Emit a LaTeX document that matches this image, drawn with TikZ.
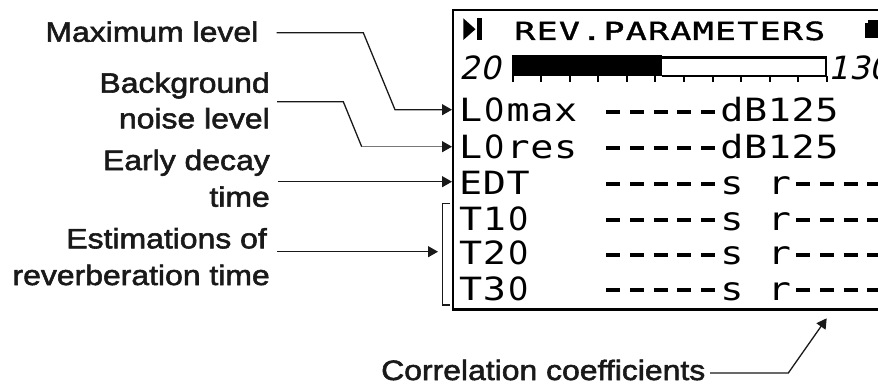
\documentclass[tikz,border=0pt]{standalone}
\usepackage{fontspec}
\usetikzlibrary{arrows.meta}
\newfontfamily\labfont[FakeStretch=1.14,FakeBold=2]{Liberation Sans}
\newfontfamily\lcdfont[FakeStretch=1.2]{DejaVu Sans Mono}
\newfontfamily\lcdzero{DejaVu Sans}
\newfontfamily\lcdhead[FakeStretch=1.4,FakeBold=1.5]{DejaVu Sans Mono}
\newfontfamily\lcdital[FakeSlant=0.22]{DejaVu Sans}
\definecolor{labtext}{RGB}{25,25,25}
\definecolor{greyline}{RGB}{120,120,120}
\def\lcdend{}
\newcommand\lcdrow[2]{\def\lcdp{#1}\lcdloop#2\lcdend}
\def\lcdloop#1{\ifx#1\lcdend\else\lcdcell{#1}\expandafter\lcdloop\fi}
\def\lcdcell#1{%
  \ifx#1*\hbox to\lcdp{\hss}%
  \else\ifx#1-\hbox to\lcdp{\hss\rule[8pt]{14pt}{4pt}\hss}%
  \else\ifx#10\hbox to\lcdp{\hss{\lcdzero 0}\hss}%
  \else\hbox to\lcdp{\hss#1\hss}\fi\fi\fi}
\tikzset{
  lab/.style={font=\labfont\fontsize{28}{36}\selectfont, inner sep=0pt, text=labtext},
  conn/.style={line width=1.3pt, draw=labtext},
  tipped/.style={-{Triangle[length=10pt,width=11pt,color=labtext]}},
  lcdtext/.style={font=\lcdfont\fontsize{32}{36}\selectfont, inner sep=0pt, anchor=base west},
  lcdheadtext/.style={font=\lcdhead\fontsize{25}{25}\selectfont, inner sep=0pt, anchor=base west},
  lcdnum/.style={font=\lcdital\fontsize{32}{32}\selectfont, inner sep=0pt, anchor=base west},
  frame/.style={line width=2.4pt, draw=black},
}
\begin{document}
\begin{tikzpicture}[x=1pt,y=-1pt]
\useasboundingbox (0,0) rectangle (878,385);
\clip (0,0) rectangle (878,385);
% ---------- display frame ----------
\draw[frame] (890,10) -- (453,10) -- (453,309.5);
\draw[line width=3.5pt] (451.8,309.5) -- (890,309.5);
% play icon
\fill (463.3,18.3) -- (475.5,29.2) -- (463.3,40) -- cycle;
\fill (477,18.3) rectangle (482,40);
% battery icon
\fill (865,23) rectangle (890,38.5);
\fill (868,20) rectangle (890,23.5);
% header
\node[lcdheadtext] (hdr) at (513.5,40) {\lcdrow{22.3pt}{REV.PARAMETERS}};
% scale numbers
\node[lcdnum] (n20) at (459.5,80) {20};
\node[lcdnum] (n130) at (828.5,80) {130};
% bar
\fill (511.7,55.5) rectangle (661.7,76.5);
\draw[line width=2pt] (661.7,76) -- (826,76) -- (826,57) -- (661.7,57);
\draw[line width=3.5pt] (661.7,57.3) -- (826,57.3);
\foreach \k in {0,...,11}{
  \draw[line width=2pt] ({512.7+28.55*\k},76) -- ++(0,6.5);
}
% rows
\node[lcdtext] (r1) at (458.6,121.7) {\lcdrow{23.75pt}{L0max*-----dB125}};
\node[lcdtext] (r2) at (458.6,158.3) {\lcdrow{23.75pt}{L0res*-----dB125}};
\node[lcdtext] (r3) at (458.6,194.3) {\lcdrow{23.75pt}{EDT***-----s*r----}};
\node[lcdtext] (r4) at (458.6,230) {\lcdrow{23.75pt}{T10***-----s*r----}};
\node[lcdtext] (r5) at (458.6,264.5) {\lcdrow{23.75pt}{T20***-----s*r----}};
\node[lcdtext] (r6) at (458.6,300) {\lcdrow{23.75pt}{T30***-----s*r----}};
% ---------- labels ----------
\node[lab, anchor=base east] (lmax) at (258.5,41.7) {Maximum level};
\node[lab, anchor=base east] (lbg1) at (270,92.7) {Background};
\node[lab, anchor=base east] (lbg2) at (270,128.3) {noise level};
\node[lab, anchor=base east] (led1) at (270,170) {Early decay};
\node[lab, anchor=base east] (led2) at (270,206.7) {time};
\node[lab, anchor=base east] (les1) at (267,248.3) {Estimations of};
\node[lab, anchor=base east] (les2) at (270,285) {reverberation time};
\node[lab, anchor=base west] (lcc) at (381,380) {Correlation coefficients};
% ---------- connectors ----------
\coordinate (amax0) at (276.7,32.7);
\coordinate (amax1) at (363.3,32.7);
\coordinate (amax2) at (395,109.7);
\coordinate (amax3) at (452,109.7);
\draw[conn,tipped] (amax0) -- (amax1) -- (amax2) -- (amax3);
\coordinate (abg0) at (277,101.7);
\coordinate (abg1) at (343.3,101.7);
\coordinate (abg2) at (361.7,146.7);
\coordinate (abg3) at (452,146.7);
\draw[conn] (abg0) -- (abg1) -- (abg2);
\draw[conn,draw=greyline,tipped] (abg2) -- (abg3);
\coordinate (aed0) at (278,181.7);
\coordinate (aed1) at (452,181.7);
\draw[conn,tipped] (aed0) -- (aed1);
\coordinate (aes0) at (277,251.7);
\coordinate (aes1) at (438,251.7);
\draw[conn,tipped] (aes0) -- (aes1);
\coordinate (brt) at (450,203.3);
\coordinate (brb) at (450,305);
\draw[conn] (brt) -- (442.7,203.3) -- (442.7,305) -- (brb);
\coordinate (acc0) at (710,373);
\coordinate (acc1) at (788.3,373);
\coordinate (acc2) at (826.7,318.3);
\draw[conn,tipped] (acc0) -- (acc1) -- (acc2);
\end{tikzpicture}
\end{document}
